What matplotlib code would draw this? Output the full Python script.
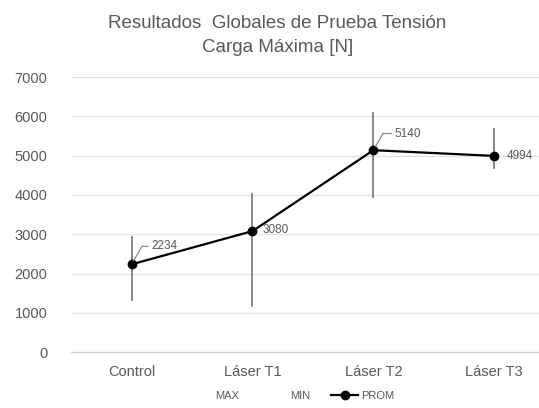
import matplotlib.pyplot as plt
import numpy as np

CATEGORIES = ["Control", "Láser T1", "Láser T2", "Láser T3"]
PROM = [2234, 3080, 5140, 4994]
MAX_VALS = [2920, 4020, 6080, 5680]
MIN_VALS = [1330, 1180, 3950, 4680]

plt.rcParams.update({"font.family": ["Liberation Sans", "DejaVu Sans"]})
TXT = "#595959"

fig = plt.figure(figsize=(5.39, 4.08), dpi=100)
ax = fig.add_axes([0.132, 0.137, 0.868, 0.674])

x = np.arange(len(CATEGORIES))
# high-low lines
for xi, hi, lo in zip(x, MAX_VALS, MIN_VALS):
    ax.plot([xi, xi], [lo, hi], color="#7f7f7f", lw=1.3, zorder=2)
ax.plot([], [], color="none", label="MAX")
ax.plot([], [], color="none", label="MIN")
ax.plot(x, PROM, color="black", lw=1.6, marker="o", ms=6, zorder=3, label="PROM")

# data labels
lead = dict(arrowstyle="-", color="#7f7f7f", lw=0.8,
            connectionstyle="angle,angleA=0,angleB=60,rad=0",
            shrinkA=0, shrinkB=3)
ax.annotate(f"{PROM[0]}", xy=(x[0], PROM[0]), xytext=(14, 13), textcoords="offset points",
            fontsize=8.5, color=TXT, va="center", arrowprops=lead)
ax.annotate(f"{PROM[2]}", xy=(x[2], PROM[2]), xytext=(15, 12), textcoords="offset points",
            fontsize=8.5, color=TXT, va="center", arrowprops=lead)
ax.annotate(f"{PROM[1]}", xy=(x[1], PROM[1]), xytext=(7, 1), textcoords="offset points",
            fontsize=8.5, color=TXT, va="center")
ax.annotate(f"{PROM[3]}", xy=(x[3], PROM[3]), xytext=(9, 0), textcoords="offset points",
            fontsize=8.5, color=TXT, va="center")

ax.set_xlim(-0.5, 3.37)
ax.set_ylim(0, 7000)
ax.set_yticks(np.arange(0, 7001, 1000))
ax.set_xticks(x)
ax.set_xticklabels(CATEGORIES)
ax.tick_params(axis="both", length=0, labelsize=10.5, colors=TXT)
ax.tick_params(axis="y", pad=17)
ax.tick_params(axis="x", pad=9)
ax.grid(True, axis="y", color="#e3e3e3", lw=0.9)
ax.set_axisbelow(True)
for s in ["top", "right", "left"]:
    ax.spines[s].set_visible(False)
ax.spines["bottom"].set_color("#d0d0d0")

fig.suptitle("Resultados  Globales de Prueba Tensión\nCarga Máxima [N]",
             x=0.515, y=0.963, fontsize=13.5, color=TXT, linespacing=1.5)

ax.legend(loc="upper center", bbox_to_anchor=(0.467, -0.105), ncol=3, frameon=False,
          fontsize=8, labelcolor=TXT, handlelength=2.4, columnspacing=1.9,
          handletextpad=0.3)

fig.savefig("out.png", dpi=100)
